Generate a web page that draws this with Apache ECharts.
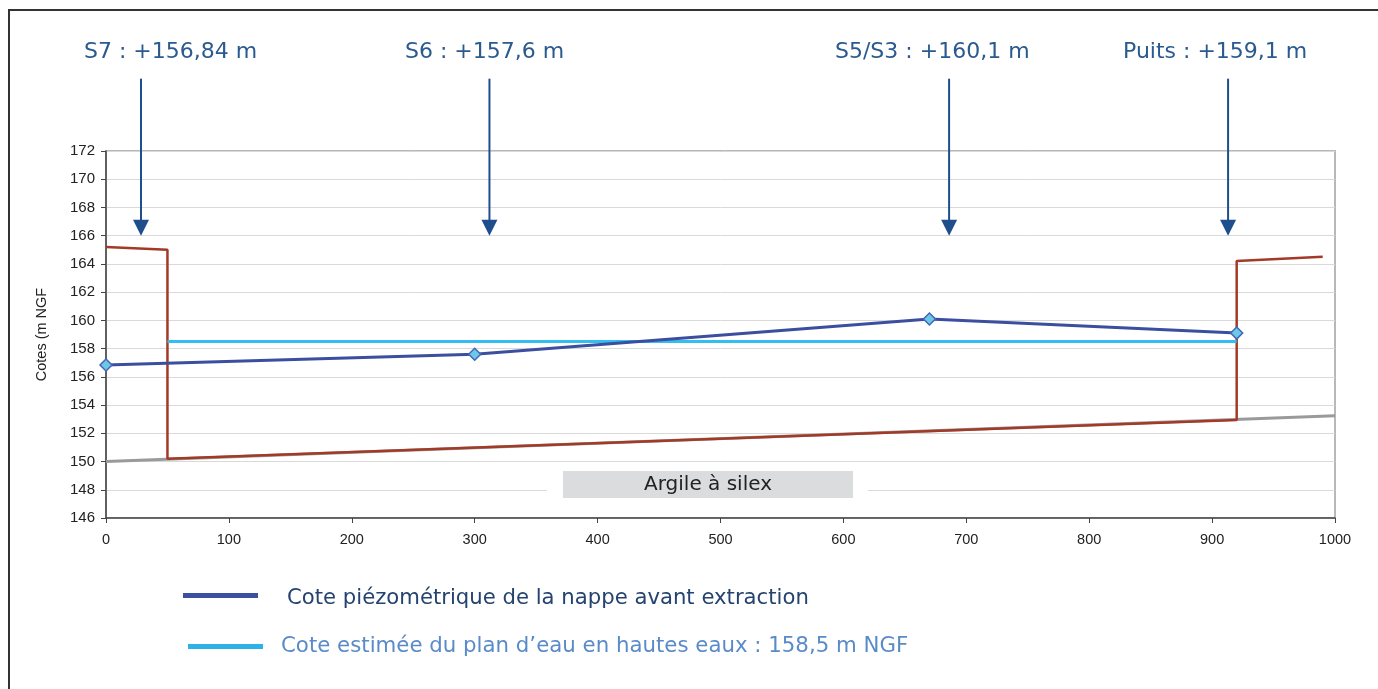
<!DOCTYPE html>
<html>
<head>
<meta charset="utf-8">
<script src="https://cdn.jsdelivr.net/npm/echarts@6/dist/echarts.min.js"></script>
<style>
  html, body { margin: 0; padding: 0; background: #fff; }
  #chart { width: 1378px; height: 689px; }
</style>
</head>
<body>
<div id="chart"></div>
<script>
// Distances along the section (m) and elevations (m NGF)
const piezoDist = [0, 300, 670, 920];
const piezoLevel = [156.84, 157.6, 160.1, 159.1];
const wellNames = ['S7', 'S6', 'S5/S3', 'Puits'];

const planDist = [50, 920];
const planLevel = 158.5;

const terrainDist = [0, 50, 50, 920, 920, 990];
const terrainLevel = [165.2, 165.0, 150.2, 152.95, 164.2, 164.5];

const clayDist = [0, 1000];
const clayLevel = [150, 153.25];

const arrowDist = [28.5, 312, 686, 913];
const arrowTipLevel = 166;

const xTicks = { min: 0, max: 1000, step: 100 };
const yTicks = { min: 146, max: 172, step: 2 };

const legendTexts = [
  'Cote piézométrique de la nappe avant extraction',
  'Cote estimée du plan d\u2019eau en hautes eaux : 158,5 m NGF'
];
const clayLabel = 'Argile à silex';
const yName = 'Cotes (m NGF';

const fmt = v => String(v).replace('.', ',');
const zip = (xs, ys) => xs.map((x, i) => [x, Array.isArray(ys) ? ys[i] : ys]);

// left anchors of the well captions (px)
const captionLeft = [84, 405, 835, 1123];

const axisFont = '"Liberation Sans", Arial, sans-serif';

const chart = echarts.init(document.getElementById('chart'), null, { renderer: 'canvas' });

const graphics = [
  // outer frame
  { type: 'rect', shape: { x: 9, y: 10, width: 1400, height: 700 },
    style: { fill: 'none', stroke: '#333', lineWidth: 2 }, z: 100 },
  // clay label box
  { type: 'rect', shape: { x: 547, y: 466, width: 321, height: 37 },
    style: { fill: '#fff' }, z: 100 },
  { type: 'rect', shape: { x: 563, y: 471, width: 290, height: 27 },
    style: { fill: '#dbdcde' }, z: 101 },
  { type: 'text', x: 708, y: 485, z: 102,
    style: { text: clayLabel, fill: '#222', font: '20px "DejaVu Sans"', align: 'center', verticalAlign: 'middle' } },
  // legend
  { type: 'rect', shape: { x: 183, y: 593, width: 75, height: 5 }, style: { fill: '#3a50a0' }, z: 100 },
  { type: 'text', x: 287, y: 598, z: 100,
    style: { text: legendTexts[0], fill: '#25436f', font: '21.2px "DejaVu Sans"', verticalAlign: 'middle' } },
  { type: 'rect', shape: { x: 188, y: 644, width: 75, height: 5 }, style: { fill: '#2eb1e6' }, z: 100 },
  { type: 'text', x: 281, y: 646, z: 100,
    style: { text: legendTexts[1], fill: '#5a8bc9', font: '21.3px "DejaVu Sans"', verticalAlign: 'middle' } }
];

wellNames.forEach((name, i) => {
  graphics.push({
    type: 'text', x: captionLeft[i], y: 52, z: 100,
    style: { text: name + ' : +' + fmt(piezoLevel[i]) + ' m', fill: '#2a5a8e',
      font: '22px "DejaVu Sans"', verticalAlign: 'middle' }
  });
});

const option = {
  animation: false,
  backgroundColor: '#fff',
  grid: { left: 106, right: 43, top: 151, bottom: 171, show: true,
    borderColor: '#b8b8b8', borderWidth: 2, backgroundColor: 'transparent' },
  xAxis: {
    type: 'value', min: xTicks.min, max: xTicks.max, interval: xTicks.step,
    axisLine: { show: true, onZero: false, lineStyle: { color: '#444', width: 1.5 } },
    axisTick: { show: true, length: 5, lineStyle: { color: '#444' } },
    axisLabel: { color: '#222', fontFamily: axisFont, fontSize: 14.5, margin: 14,
      formatter: v => String(v) },
    splitLine: { show: false }
  },
  yAxis: {
    type: 'value', min: yTicks.min, max: yTicks.max, interval: yTicks.step,
    name: yName, nameLocation: 'middle', nameGap: 57, nameRotate: 90,
    nameTextStyle: { color: '#222', fontFamily: axisFont, fontSize: 14.5 },
    axisLine: { show: true, onZero: false, lineStyle: { color: '#444', width: 1.5 } },
    axisTick: { show: true, length: 5, lineStyle: { color: '#444' } },
    axisLabel: { color: '#222', fontFamily: axisFont, fontSize: 15, margin: 11 },
    splitLine: { show: true, lineStyle: { color: '#d9d9d9', width: 1 } }
  },
  series: [
    { name: 'clay', type: 'line', data: zip(clayDist, clayLevel), symbol: 'none',
      lineStyle: { color: '#9a9a9a', width: 3 }, z: 2 },
    { name: 'terrain', type: 'line', data: zip(terrainDist, terrainLevel), symbol: 'none',
      lineStyle: { color: '#a23a27', width: 2.5 }, z: 3 },
    { name: legendTexts[1], type: 'line', data: zip(planDist, planLevel), symbol: 'none',
      lineStyle: { color: '#33bdf0', width: 3 }, z: 4 },
    { name: legendTexts[0], type: 'line', data: zip(piezoDist, piezoLevel),
      symbol: 'diamond', symbolSize: 12, showAllSymbol: true,
      itemStyle: { color: '#6cc8e6', borderColor: '#4466b6', borderWidth: 1.5 },
      lineStyle: { color: '#3b4ea0', width: 3 }, z: 5 },
    { name: 'wells', type: 'custom', clip: false, z: 6,
      data: arrowDist.map(d => [d, arrowTipLevel]),
      renderItem: (params, api) => {
        const tip = api.coord([api.value(0), api.value(1)]);
        const c = '#1f4e8c';
        return { type: 'group', children: [
          { type: 'line', shape: { x1: tip[0], y1: tip[1] - 157, x2: tip[0], y2: tip[1] - 12 },
            style: { stroke: c, lineWidth: 2 } },
          { type: 'polygon', shape: { points: [[tip[0] - 8, tip[1] - 16], [tip[0] + 8, tip[1] - 16], [tip[0], tip[1]]] },
            style: { fill: c } }
        ] };
      }
    }
  ],
  graphic: graphics
};

chart.setOption(option);
</script>
</body>
</html>
